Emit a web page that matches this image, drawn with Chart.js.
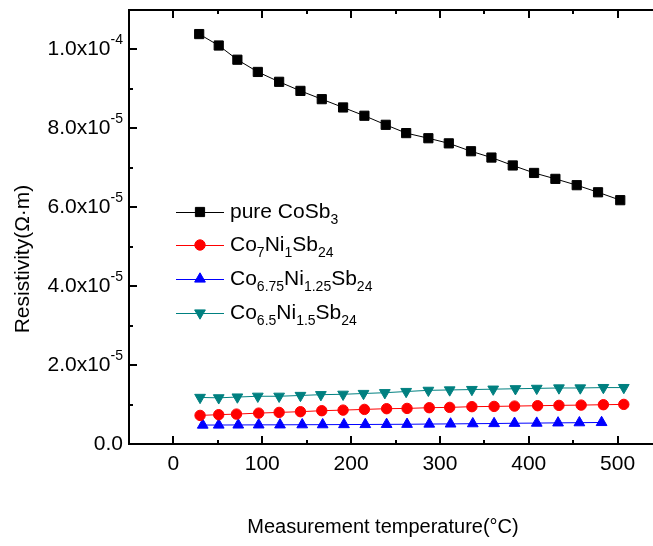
<!DOCTYPE html>
<html>
<head>
<meta charset="utf-8">
<script src="https://cdn.jsdelivr.net/npm/chart.js@4.4.1/dist/chart.umd.min.js"></script>
<style>
  html, body { margin: 0; padding: 0; background: #fff; }
  #wrap { width: 653px; height: 546px; overflow: hidden; }
</style>
</head>
<body>
<div id="wrap"><canvas id="resChart" width="700" height="546"></canvas></div>
<script>
// temperatures (°C) for each sample
const tempPure = [29, 51, 72, 95, 119, 143, 167, 191, 215, 239, 262, 287, 310, 335, 358, 382, 406, 430, 454, 478, 503];
const tempNi1 = [30, 51, 71, 96, 119, 143, 167, 191, 215, 240, 263, 288, 311, 336, 361, 384, 410, 434, 459, 484, 507];
const tempNi125 = [33, 51, 73, 96, 120, 145, 168, 192, 216, 240, 263, 288, 312, 337, 361, 384, 409, 433, 457, 482];
const tempNi15 = [30, 51, 72, 95, 119, 143, 166, 191, 214, 238, 262, 287, 311, 336, 360, 385, 409, 434, 458, 484, 507];

// resistivity (Ω·m)
const rhoPure = [1.039e-4, 1.010e-4, 9.74e-5, 9.43e-5, 9.18e-5, 8.95e-5, 8.74e-5, 8.53e-5, 8.32e-5, 8.09e-5, 7.88e-5,
                 7.75e-5, 7.62e-5, 7.42e-5, 7.26e-5, 7.06e-5, 6.87e-5, 6.72e-5, 6.56e-5, 6.38e-5, 6.18e-5];
const rhoNi1 = [7.25e-6, 7.43e-6, 7.58e-6, 7.83e-6, 8.01e-6, 8.19e-6, 8.44e-6, 8.59e-6, 8.77e-6, 8.95e-6, 9.02e-6,
                9.20e-6, 9.28e-6, 9.46e-6, 9.53e-6, 9.61e-6, 9.71e-6, 9.79e-6, 9.86e-6, 9.96e-6, 1.004e-5];
const rhoNi125 = [4.80e-6, 4.81e-6, 4.83e-6, 4.85e-6, 4.86e-6, 4.89e-6, 4.90e-6, 4.93e-6, 4.95e-6, 4.98e-6,
                  5.00e-6, 5.06e-6, 5.09e-6, 5.15e-6, 5.19e-6, 5.26e-6, 5.30e-6, 5.36e-6, 5.40e-6, 5.46e-6];
const rhoNi15 = [1.18e-5, 1.17e-5, 1.19e-5, 1.21e-5, 1.21e-5, 1.23e-5, 1.25e-5, 1.26e-5, 1.28e-5, 1.30e-5, 1.33e-5,
                 1.36e-5, 1.37e-5, 1.38e-5, 1.39e-5, 1.40e-5, 1.41e-5, 1.42e-5, 1.42e-5, 1.43e-5, 1.43e-5];

// legend names, [text, isSubscript] pieces
const seriesNames = [
  [['pure CoSb', 0], ['3', 1]],
  [['Co', 0], ['7', 1], ['Ni', 0], ['1', 1], ['Sb', 0], ['24', 1]],
  [['Co', 0], ['6.75', 1], ['Ni', 0], ['1.25', 1], ['Sb', 0], ['24', 1]],
  [['Co', 0], ['6.5', 1], ['Ni', 0], ['1.5', 1], ['Sb', 0], ['24', 1]]
];

// axis ticks
const xTicks = [0, 100, 200, 300, 400, 500];
const xMinorTicks = [-50, 50, 150, 250, 350, 450, 550];
const yTicks = [0, 2e-5, 4e-5, 6e-5, 8e-5, 1e-4];
const yMinorTicks = [1e-5, 3e-5, 5e-5, 7e-5, 9e-5, 1.1e-4];
const yTickText = ['0.0', '2.0x10', '4.0x10', '6.0x10', '8.0x10', '1.0x10'];
const yTickExp = ['', '-5', '-5', '-5', '-5', '-4'];

const FONT = '"Liberation Sans", Arial, sans-serif';

function pts(xs, ys) {
  return xs.map((x, i) => ({ x: x, y: ys[i] }));
}

function series(name, xs, ys, color, style, radius, rotation) {
  return {
    label: name,
    data: pts(xs, ys),
    borderColor: color,
    backgroundColor: color,
    borderWidth: 1,
    pointStyle: style,
    pointRadius: radius,
    pointRotation: rotation || 0,
    pointBorderWidth: 1,
    pointBorderColor: color,
    pointBackgroundColor: color
  };
}

const datasets = [
  series('pure CoSb3', tempPure, rhoPure, '#000000', 'rect', 6.5, 0),
  series('Co7Ni1Sb24', tempNi1, rhoNi1, '#ff0000', 'circle', 5.2, 0),
  series('Co6.75Ni1.25Sb24', tempNi125, rhoNi125, '#0000ff', 'triangle', 6.2, 0),
  series('Co6.5Ni1.5Sb24', tempNi15, rhoNi15, '#008080', 'triangle', 6.2, 180)
];

function drawRich(ctx, parts, x, y, big, small, drop) {
  let cx = x;
  parts.forEach(p => {
    ctx.font = (p[1] ? small : big) + 'px ' + FONT;
    ctx.fillText(p[0], cx, p[1] ? y + drop : y);
    cx += ctx.measureText(p[0]).width;
  });
}

const framePlugin = {
  id: 'frame',
  afterDraw(chart) {
    const ctx = chart.ctx;
    const a = chart.chartArea;
    const xs = chart.scales.x, ys = chart.scales.y;
    ctx.save();
    ctx.strokeStyle = '#000';
    ctx.fillStyle = '#000';

    // box
    ctx.lineWidth = 2;
    ctx.strokeRect(a.left, a.top, a.right - a.left, a.bottom - a.top);

    // inward tick marks on all four sides
    function tickX(v, len) {
      const px = Math.round(xs.getPixelForValue(v));
      ctx.beginPath();
      ctx.moveTo(px, a.bottom); ctx.lineTo(px, a.bottom - len);
      ctx.moveTo(px, a.top); ctx.lineTo(px, a.top + len);
      ctx.stroke();
    }
    function tickY(v, len) {
      const py = Math.round(ys.getPixelForValue(v));
      ctx.beginPath();
      ctx.moveTo(a.left, py); ctx.lineTo(a.left + len, py);
      ctx.moveTo(a.right, py); ctx.lineTo(a.right - len, py);
      ctx.stroke();
    }
    xTicks.forEach(v => tickX(v, 8));
    xMinorTicks.forEach(v => tickX(v, 4));
    yTicks.forEach(v => tickY(v, 8));
    yMinorTicks.forEach(v => tickY(v, 4));

    // x tick labels
    ctx.font = '21px ' + FONT;
    ctx.textAlign = 'center';
    ctx.textBaseline = 'middle';
    xTicks.forEach(v => ctx.fillText(String(v), xs.getPixelForValue(v), a.bottom + 20));

    // y tick labels with exponent
    ctx.textBaseline = 'middle';
    ctx.textAlign = 'left';
    yTicks.forEach((v, i) => {
      const py = ys.getPixelForValue(v);
      ctx.font = '21px ' + FONT;
      const w1 = ctx.measureText(yTickText[i]).width;
      ctx.font = '14px ' + FONT;
      const w2 = yTickExp[i] ? ctx.measureText(yTickExp[i]).width : 0;
      const x0 = a.left - 6 - w1 - w2;
      ctx.font = '21px ' + FONT;
      ctx.fillText(yTickText[i], x0, py);
      if (yTickExp[i]) {
        ctx.font = '14px ' + FONT;
        ctx.fillText(yTickExp[i], x0 + w1, py - 9);
      }
    });

    // axis titles
    ctx.font = '20px ' + FONT;
    ctx.textAlign = 'center';
    ctx.textBaseline = 'middle';
    ctx.fillText('Measurement temperature(\u00B0C)', 383, 527);
    ctx.font = '21px ' + FONT;
    ctx.save();
    ctx.translate(23, 259);
    ctx.rotate(-Math.PI / 2);
    ctx.fillText('Resistivity(\u03A9\u00B7m)', 0, 0);
    ctx.restore();

    // legend
    const rowY = [212, 245, 279, 313];
    ctx.textAlign = 'left';
    ctx.textBaseline = 'middle';
    chart.data.datasets.forEach((ds, i) => {
      const y = rowY[i];
      ctx.strokeStyle = ds.borderColor;
      ctx.fillStyle = ds.borderColor;
      ctx.lineWidth = 1;
      ctx.beginPath();
      ctx.moveTo(176, y + 0.5); ctx.lineTo(224, y + 0.5);
      ctx.stroke();
      Chart.helpers.drawPoint(ctx, {
        pointStyle: ds.pointStyle,
        radius: ds.pointRadius,
        rotation: ds.pointRotation,
        borderWidth: 1
      }, 200, y);
      ctx.fillStyle = '#000';
      drawRich(ctx, seriesNames[i], 230, y, 21, 14, 8);
    });
    ctx.restore();
  }
};

new Chart(document.getElementById('resChart'), {
  type: 'line',
  data: { datasets: datasets },
  options: {
    responsive: false,
    animation: false,
    layout: { padding: { left: 129, right: 38, top: 10, bottom: 102 } },
    scales: {
      x: { type: 'linear', min: -50, max: 550, display: false },
      y: { type: 'linear', min: 0, max: 1.1e-4, display: false }
    },
    plugins: {
      legend: { display: false },
      tooltip: { enabled: false }
    }
  },
  plugins: [framePlugin]
});
</script>
</body>
</html>
